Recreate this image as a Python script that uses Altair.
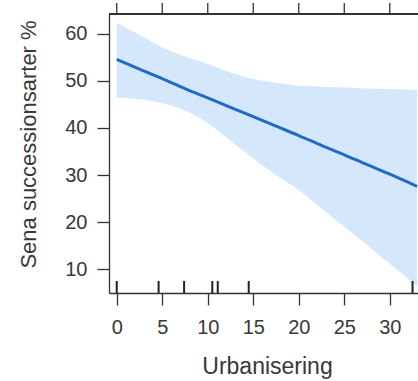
import altair as alt
import pandas as pd

# Fitted curve and confidence band
x_fit = [0, 2.5, 5, 7.5, 10, 12.5, 15, 17.5, 20, 22.5, 25, 27.5, 30, 33]
y_fit = [54.6, 52.5, 50.5, 48.4, 46.4, 44.4, 42.4, 40.4, 38.4, 36.3, 34.3, 32.2, 30.2, 27.6]
y_upper = [62.4, 59.8, 57.2, 55.2, 53.6, 51.8, 50.4, 49.6, 49.0, 48.8, 48.6, 48.4, 48.3, 48.1]
y_lower = [46.5, 46.1, 45.3, 43.7, 41.0, 37.3, 33.5, 30.0, 26.8, 22.9, 19.0, 15.1, 11.1, 6.4]

# Observed urbanisation values shown as a rug
rug_x = [0, 4.6, 7.4, 10.5, 11.1, 14.5, 32.5]

x_ticks = [0, 5, 10, 15, 20, 25, 30]
y_ticks = [10, 20, 30, 40, 50, 60]

fit = pd.DataFrame({"x": x_fit, "y": y_fit, "lo": y_lower, "hi": y_upper})
rug = pd.DataFrame({"x": rug_x})
top = pd.DataFrame({"x": x_ticks})

W, H = 309, 279
FONT = "Liberation Sans"
AX = "#333333"
LAB = "#383838"

xscale = alt.Scale(domain=[-0.85, 33.1], nice=False, zero=False)
yscale = alt.Scale(domain=[4.9, 64.25], nice=False, zero=False)

x_axis = alt.Axis(
    values=x_ticks, orient="bottom", grid=False, domainColor=AX, domainWidth=1.3,
    tickColor=AX, tickSize=12, tickWidth=1.3, labelFontSize=20, labelColor=LAB,
    labelFont=FONT, labelPadding=12, labelFlush=False,
    title="Urbanisering", titleFont=FONT, titleFontSize=23, titleFontWeight="normal",
    titleColor=LAB, titleX=158, titleY=80, titleBaseline="alphabetic",
)
y_axis = alt.Axis(
    values=y_ticks, orient="left", grid=False, domainColor=AX, domainWidth=1.3,
    tickColor=AX, tickSize=12, tickWidth=1.3, labelFontSize=20, labelColor=LAB,
    labelFont=FONT, labelPadding=10, labelFlush=False,
    title="Sena successionsarter %", titleFont=FONT, titleFontSize=22,
    titleFontWeight="normal", titleColor=LAB, titleX=-74, titleY=130,
    titleBaseline="alphabetic", titleAngle=270,
)

band = alt.Chart(fit).mark_area(color="#d5e7fb", opacity=1, interpolate="monotone").encode(
    x=alt.X("x:Q", scale=xscale, axis=x_axis),
    y=alt.Y("lo:Q", scale=yscale, axis=y_axis),
    y2="hi:Q",
)

line = alt.Chart(fit).mark_line(color="#1f6cc4", strokeWidth=3, interpolate="monotone").encode(
    x=alt.X("x:Q", scale=xscale),
    y=alt.Y("y:Q", scale=yscale),
)

# Top frame line and its outward ticks
top_line = alt.Chart(top).mark_rule(color=AX, strokeWidth=1.3).encode(
    x=alt.value(0), x2=alt.value(W), y=alt.value(0),
)
top_ticks = alt.Chart(top).mark_rule(color=AX, strokeWidth=1.3).encode(
    x=alt.X("x:Q", scale=xscale),
    y=alt.value(0),
    y2=alt.value(-11),
)

rug_marks = alt.Chart(rug).mark_rule(color="#222222", strokeWidth=2).encode(
    x=alt.X("x:Q", scale=xscale),
    y=alt.value(H),
    y2=alt.value(H - 12),
)

chart = alt.layer(band, line, rug_marks, top_line, top_ticks).properties(
    width=W, height=H,
    autosize=alt.AutoSizeParams(type="none"),
    padding={"left": 109, "top": 14, "right": 0, "bottom": 88},
).configure_view(stroke=None).configure(background="white")

chart.save("out.html", embed_options={"renderer": "svg", "actions": False})
